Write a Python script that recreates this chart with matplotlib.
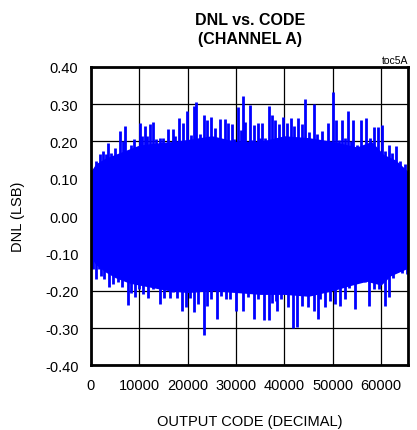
import numpy as np
import matplotlib.pyplot as plt

plt.rcParams['font.family'] = ['Liberation Sans Narrow', 'Liberation Sans', 'DejaVu Sans']
plt.rcParams['axes.unicode_minus'] = False

# dense body of the DNL trace (valley envelope)
top_code = [0, 1000, 3000, 5000, 8000, 10000, 13000, 17000, 20000, 25000, 30000,
            35000, 40000, 45000, 50000, 55000, 58000, 60500, 63000, 65535]
top_val = [0.12, 0.14, 0.155, 0.165, 0.18, 0.19, 0.195, 0.20, 0.205, 0.215, 0.20,
           0.20, 0.215, 0.21, 0.20, 0.185, 0.20, 0.165, 0.15, 0.12]
bot_code = [0, 1000, 3000, 5000, 8000, 12000, 16000, 20000, 25000, 30000, 35000,
            40000, 45000, 50000, 54000, 57000, 60000, 62000, 65535]
bot_val = [-0.11, -0.13, -0.15, -0.165, -0.18, -0.19, -0.20, -0.205, -0.20, -0.205,
           -0.21, -0.21, -0.215, -0.20, -0.185, -0.175, -0.185, -0.16, -0.14]

# positive peaks
up_code = [1100, 1800, 2480, 3170, 3520, 4200, 4900, 5940, 6600, 7110, 8300, 9000,
           10080, 10600, 11250, 11700, 12150, 12840, 13500, 14200, 14900, 15940,
           16900, 17400, 18220, 19050, 19940, 20600, 21330, 21800, 22500, 23400,
           24100, 24900, 25600, 26640, 27700, 28400, 29100, 29600, 30440, 31000,
           31470, 31900, 32850, 33300, 33800, 34500, 35000, 35460, 36100, 36850,
           37400, 38000, 38900, 39820, 40500, 41410, 42100, 42800, 43600, 44300,
           45000, 46170, 46700, 47800, 49000, 49960, 50600, 51200, 51900, 52600,
           53070, 53700, 54180, 55000, 55900, 56870, 57700, 58600, 59360, 60190,
           60740, 61700, 62200, 63090, 63980, 65000]
up_val = [0.148, 0.166, 0.175, 0.166, 0.195, 0.17, 0.181, 0.228, 0.20, 0.242, 0.19,
          0.205, 0.249, 0.215, 0.242, 0.215, 0.246, 0.253, 0.206, 0.208, 0.21, 0.233,
          0.233, 0.215, 0.262, 0.248, 0.282, 0.218, 0.294, 0.306, 0.22, 0.27,
          0.258, 0.264, 0.237, 0.26, 0.26, 0.25, 0.246, 0.206, 0.291, 0.23,
          0.322, 0.253, 0.296, 0.203, 0.244, 0.25, 0.21, 0.25, 0.21, 0.294,
          0.27, 0.258, 0.246, 0.264, 0.25, 0.262, 0.24, 0.262, 0.246, 0.313,
          0.224, 0.30, 0.22, 0.227, 0.25, 0.333, 0.258, 0.203, 0.258, 0.21,
          0.282, 0.20, 0.256, 0.19, 0.256, 0.262, 0.209, 0.239, 0.239, 0.243,
          0.175, 0.19, 0.17, 0.188, 0.148, 0.139]

# negative peaks
dn_code = [400, 1100, 1600, 2000, 2700, 3660, 4500, 5500, 6500, 7660, 8300, 9050,
           10000, 10700, 11800, 12800, 14220, 15100, 16300, 17000, 17900, 18900,
           19700, 20400, 21330, 22100, 23400, 24100, 24900, 26090, 26800, 28000,
           28700, 30080, 31470, 32400, 33810, 34640, 35880, 36850, 37410, 38240,
           38580, 39400, 40850, 41890, 42710, 43620, 44990, 46030, 46930, 47410,
           48450, 49480, 50520, 51550, 52590, 53280, 54660, 55690, 56730, 57560,
           58450, 59490, 60870, 61700, 62390, 63290, 64320, 65300]
dn_val = [-0.142, -0.169, -0.142, -0.16, -0.17, -0.189, -0.183, -0.178, -0.189,
          -0.239, -0.205, -0.218, -0.196, -0.21, -0.22, -0.196, -0.236, -0.22,
          -0.22, -0.203, -0.22, -0.254, -0.245, -0.22, -0.257, -0.237, -0.319,
          -0.24, -0.223, -0.276, -0.214, -0.223, -0.223, -0.254, -0.254, -0.218,
          -0.275, -0.223, -0.278, -0.278, -0.232, -0.228, -0.254, -0.223, -0.245,
          -0.299, -0.297, -0.241, -0.245, -0.254, -0.276, -0.223, -0.245, -0.227,
          -0.236, -0.241, -0.223, -0.194, -0.25, -0.178, -0.178, -0.241, -0.196,
          -0.196, -0.241, -0.218, -0.165, -0.151, -0.153, -0.155]

x_ticks = [0, 10000, 20000, 30000, 40000, 50000, 60000]
y_ticks = [-0.4, -0.3, -0.2, -0.1, 0.0, 0.1, 0.2, 0.3, 0.4]
y_labels = ['-0.40', '-0.30', '-0.20', '-0.10', '0.00', '0.10', '0.20', '0.30', '0.40']

fig = plt.figure(figsize=(4.17, 4.31), dpi=100)
ax = fig.add_axes([0.218, 0.150, 0.760, 0.693])

blue = '#0000ff'
# the two halves overlap around zero so no seam shows
ax.fill_between(top_code, -0.05, top_val, color=blue, lw=0)
ax.fill_between(bot_code, bot_val, 0.05, color=blue, lw=0)
ax.vlines(up_code, 0, up_val, color=blue, lw=2)
ax.vlines(dn_code, dn_val, 0, color=blue, lw=2)

ax.set_xlim(0, 65535)
ax.set_ylim(-0.4, 0.4)
ax.set_xticks(x_ticks)
ax.set_xticklabels([str(t) for t in x_ticks])
ax.set_yticks(y_ticks)
ax.set_yticklabels(y_labels)
ax.tick_params(length=0, labelsize=10.5, pad=9)
ax.grid(True, color='black', lw=0.9)
ax.set_axisbelow(True)
for s in ax.spines.values():
    s.set_linewidth(2)

ax.set_xlabel('OUTPUT CODE (DECIMAL)', fontsize=10.5, labelpad=16)
ax.set_ylabel('DNL (LSB)', fontsize=10.5, labelpad=14)
fig.text(0.60, 0.97, 'DNL vs. CODE\n(CHANNEL A)', ha='center', va='top',
         fontsize=11.5, fontweight='bold', linespacing=1.3)
ax.text(1.0, 1.005, 'toc5A', transform=ax.transAxes, ha='right', va='bottom',
        fontsize=7.5)

plt.savefig('out.png', dpi=100)
